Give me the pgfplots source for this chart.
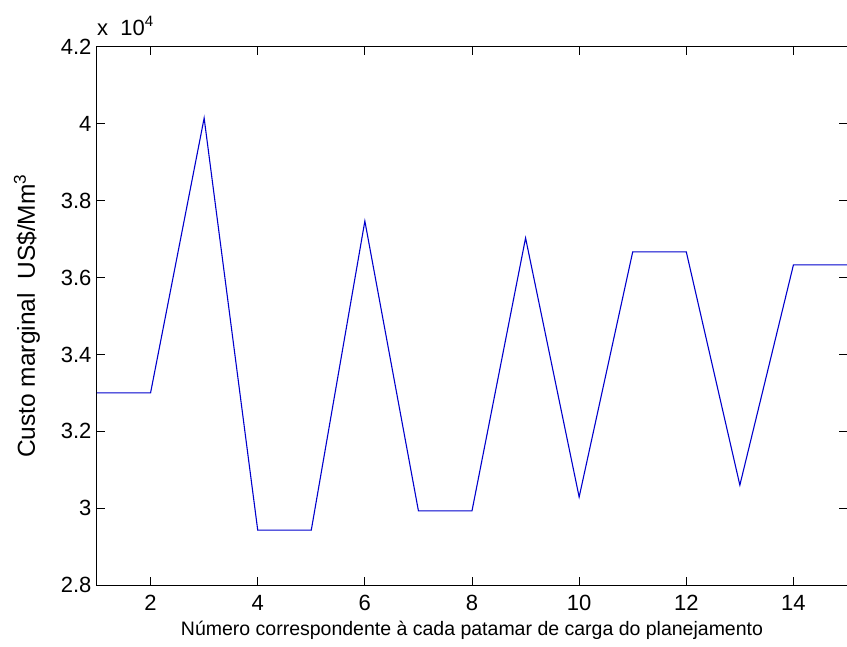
\documentclass[border=0pt]{standalone}
\usepackage{fontspec}
\setmainfont{Liberation Sans}
\usepackage{pgfplots}
\pgfplotsset{compat=1.18}
\begin{document}
\begin{tikzpicture}
\begin{axis}[
  scale only axis,
  width=750pt, height=538pt,
  xmin=1, xmax=15, ymin=28000, ymax=42000,
  xtick={2,4,...,14},
  ytick={28000,30000,32000,34000,36000,38000,40000,42000},
  scaled y ticks=base 10:-4,
  ytick scale label code/.code={},
  /pgf/number format/assume math mode=true,
  yticklabel style={/pgf/number format/fixed, /pgf/number format/precision=1},
  tick align=inside,
  major tick length=8pt,
  tick style={black, line width=1pt},
  axis line style={black, line width=1pt},
  ticklabel style={font=\fontsize{22}{24}\selectfont},
  xticklabel style={yshift=-7pt},
  yticklabel style={xshift=-2pt},
  xlabel={Número correspondente à cada patamar de carga do planejamento},
  xlabel style={font=\fontsize{19.5}{21}\selectfont, yshift=-3pt},
  ylabel={Custo marginal\ \ US\$/Mm\textsuperscript{3}},
  ylabel style={font=\fontsize{24.5}{26}\selectfont, yshift=14pt},
  clip=false,
]
\addplot[blue!80!black, line width=1.1pt] coordinates {
  (1,33000) (2,33000) (3,40150) (4,29430) (5,29430)
  (6,37470) (7,29930) (8,29930) (9,37030) (10,30290)
  (11,36670) (12,36670) (13,30600) (14,36330) (15,36330)
};
\node[anchor=south west, font=\fontsize{22}{24}\selectfont, inner sep=0pt] at ([yshift=11pt]rel axis cs:0,1) {x\ \ 10\raisebox{9pt}{\fontsize{15}{16}\selectfont 4}};
\coordinate (sw) at (rel axis cs:0,0);
\coordinate (ne) at (rel axis cs:1,1);
\end{axis}
\pgfresetboundingbox
\path[use as bounding box] ([xshift=-97pt,yshift=-61pt]sw) rectangle ([yshift=47pt]ne);
\end{tikzpicture}
\end{document}
